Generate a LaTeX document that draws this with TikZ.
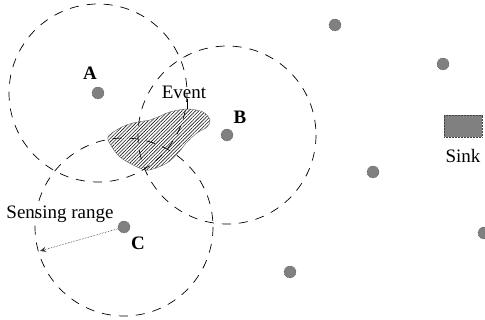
\documentclass[tikz,border=0pt]{standalone}
\usepackage{fontspec}
\setmainfont{Liberation Serif}
\usetikzlibrary{arrows.meta,patterns.meta}
\definecolor{sensorgray}{HTML}{808080}
\definecolor{outlinegray}{HTML}{404040}

\begin{document}
\begin{tikzpicture}[
  x=1pt,
  y=-1pt,
  line join=round,
  sensor/.style={circle,fill=sensorgray,draw=outlinegray,densely dotted,line width=0.5pt,minimum size=12pt,inner sep=0pt},
  sinkbox/.style={rectangle,fill=sensorgray,draw=outlinegray,densely dotted,line width=0.5pt,minimum width=38pt,minimum height=22pt,inner sep=0pt},
  rangecircle/.style={draw=black,line width=0.7pt,dash pattern=on 9pt off 8pt},
  eventarea/.style={pattern={Lines[angle=45,distance=2.4pt,line width=0.6pt]},pattern color=black!90,draw=black!60,line width=0.4pt},
  txt/.style={font=\fontsize{19}{22}\selectfont,inner sep=0pt},
  tag/.style={font=\fontsize{19}{22}\selectfont\bfseries,inner sep=0pt},
  rangearrow/.style={draw=black!80,line width=0.6pt,densely dotted,-{Stealth[length=6pt,width=5pt]}}
]
  \useasboundingbox (0,0) rectangle (485,320);

  % Sensor nodes; A, B and C see the event.
  \node[sensor] (A) at (98,93) {};
  \node[sensor] (B) at (227,135) {};
  \node[sensor] (C) at (124,227) {};
  \node[sensor] (s1) at (335,25) {};
  \node[sensor] (s2) at (443,64) {};
  \node[sensor] (s3) at (373,172) {};
  \node[sensor] (s4) at (484,233) {};
  \node[sensor] (s5) at (290,272) {};

  % Sink.
  \node[sinkbox] (sink) at (463,126) {};
  \node[txt] (sinklabel) at (463,156) {Sink};

  % Event region, hatched, below the sensing ranges.
  \path[eventarea] plot[smooth cycle,tension=0.55] coordinates {
    (108,137) (120,128) (133,123) (150,120) (158,117) (170,112)
    (187,109) (203,112) (210,120) (207,127) (197,133) (187,142)
    (178,153) (167,163) (153,169) (145,170) (133,165) (120,157)
    (112,147)};
  \coordinate (eventtop) at (187,109);
  \node[txt] (event) at (184,92) {Event};
  \draw[line width=0.5pt] (event.south -| eventtop) -- (eventtop);

  % Sensing ranges.
  \foreach \s in {A,B,C} {
    \draw[rangecircle] (\s) circle[radius=89];
  }

  % Labels.
  \node[tag] (Alabel) at (90,73) {A};
  \node[tag] (Blabel) at (240,117) {B};
  \node[tag] (Clabel) at (138,243) {C};

  % Sensing range radius.
  \coordinate (rangeend) at (40,251);
  \draw[rangearrow] (C) -- (rangeend);
  \node[txt] (rangelabel) at (60,214) {Sensing range};
\end{tikzpicture}
\end{document}
